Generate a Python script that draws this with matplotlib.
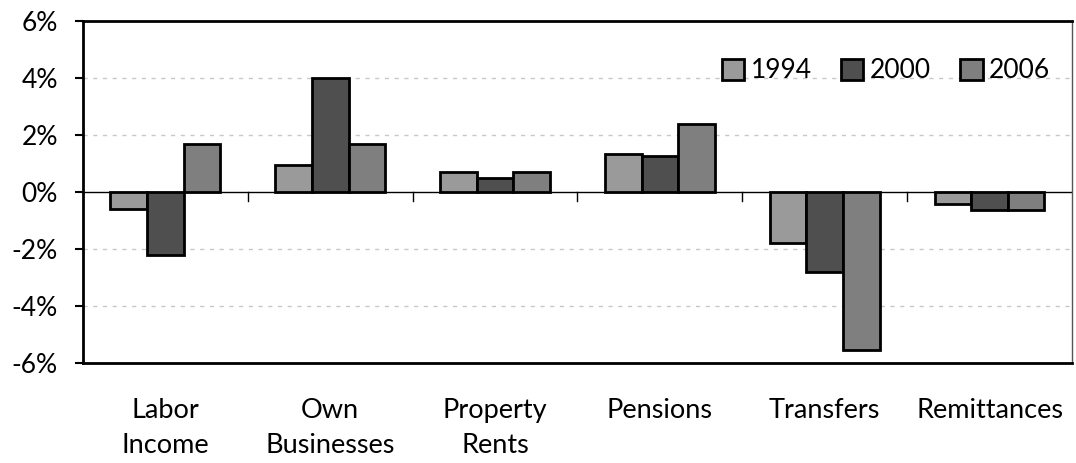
import numpy as np
import matplotlib.pyplot as plt
from matplotlib.ticker import FuncFormatter

categories = ["Labor\nIncome", "Own\nBusinesses", "Property\nRents", "Pensions", "Transfers", "Remittances"]
years = ["1994", "2000", "2006"]
v1994 = [-0.6, 0.95, 0.7, 1.35, -1.8, -0.42]
v2000 = [-2.2, 4.0, 0.5, 1.25, -2.8, -0.63]
v2006 = [1.7, 1.7, 0.7, 2.4, -5.55, -0.63]

colors = ["#9a9a9a", "#4f4f4f", "#7f7f7f"]

plt.rcParams['font.family'] = ['Lato', 'DejaVu Sans']

fig = plt.figure(figsize=(10.76, 4.63), dpi=100)
ax = fig.add_axes([0.0771, 0.216, 0.9192, 0.7386])

x = np.arange(len(categories))
w = 0.222
for i, (vals, yr) in enumerate(zip([v1994, v2000, v2006], years)):
    ax.bar(x + (i - 1) * w, vals, w, color=colors[i], edgecolor="black",
           linewidth=2, label=yr, zorder=3)

ax.set_xlim(-0.5, len(categories) - 0.5)
ax.set_ylim(-6, 6)
ax.set_yticks([-6, -4, -2, 0, 2, 4, 6])
ax.yaxis.set_major_formatter(FuncFormatter(lambda v, p: f"{v:.0f}%"))
for g in [-4, -2, 2, 4]:
    ax.axhline(g, color="#c8c8c8", linestyle=(0, (3, 4)), linewidth=1, zorder=1)
ax.axhline(0, color="black", linewidth=1, zorder=2)

# category boundary ticks on the zero line
for b in np.arange(0.5, len(categories) - 0.5):
    ax.plot([b, b], [0, -0.3], color="black", linewidth=1, zorder=2)

ax.set_xticks(x)
ax.set_xticklabels(categories, fontsize=19.5, linespacing=1.5)
ax.tick_params(axis="x", length=0, pad=25)
ax.tick_params(axis="y", labelsize=19, length=6, width=1.5, pad=12)

for s in ["left", "top", "bottom"]:
    ax.spines[s].set_linewidth(2)
ax.spines["right"].set_linewidth(1)
ax.spines["right"].set_color("#555555")

ax.legend(loc="upper right", bbox_to_anchor=(1.002, 0.96), ncol=3, frameon=False,
          fontsize=19, handlelength=0.85, handleheight=0.85, handletextpad=0.25,
          columnspacing=1.1)

fig.savefig("out.png", dpi=100)
